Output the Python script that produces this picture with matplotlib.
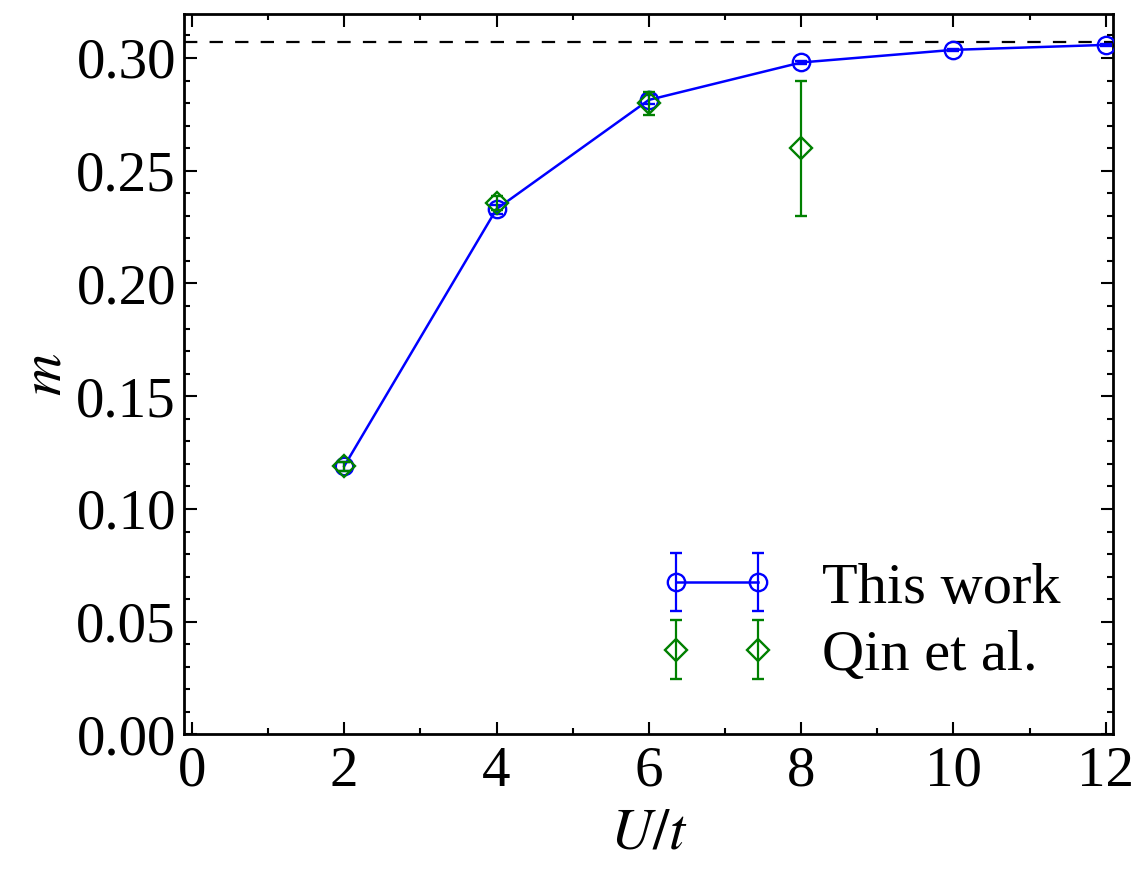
#!/usr/bin/python3

import matplotlib
matplotlib.use('Agg')
import matplotlib.pyplot as plt
from matplotlib.ticker import MultipleLocator, FormatStrFormatter


# This work
U_this = [2, 4, 6, 8, 10, 12]
m_this = [0.119, 0.233, 0.2814, 0.298, 0.3036, 0.3058]
err_this = [0.002, 0.002, 0.002, 0.0005, 0.0005, 0.0005]

# Qin et al.
U_qin = [2, 4, 6, 8]
m_qin = [0.119, 0.2356, 0.2799, 0.26]
err_qin = [0.002, 0.003, 0.005, 0.03]

# Heisenberg limit (dashed line)
m_limit = 0.307


def main():
	''' Staggered magnetization vs U/t'''

	plt.rcParams['font.family'] = ['Liberation Serif', 'DejaVu Serif']
	plt.rcParams['mathtext.fontset'] = 'stix'

	fs = 41

	fig = plt.figure(figsize=(11.47, 8.75), dpi=100)
	ax = fig.add_axes([0.1607, 0.1606, 0.8099, 0.8234])

	ax.axhline(m_limit, color='black', linestyle=(0, (6, 5.5)), linewidth=1.6, zorder=1)

	ax.errorbar(U_this, m_this, yerr=err_this, color='blue', marker='o',
		markersize=12.5, markerfacecolor='none', markeredgewidth=1.7,
		linewidth=1.8, capsize=4.5, elinewidth=1.6, capthick=1.6,
		label='This work', zorder=3)
	ax.errorbar(U_qin, m_qin, yerr=err_qin, color='green', marker='D',
		markersize=11.5, markerfacecolor='none', markeredgewidth=1.7,
		linestyle='none', capsize=4.5, elinewidth=1.6, capthick=1.6,
		label='Qin et al.', zorder=4)

	ax.set_xlim(-0.1, 12.1)
	ax.set_ylim(0, 0.3195)

	ax.xaxis.set_major_locator(MultipleLocator(2))
	ax.xaxis.set_minor_locator(MultipleLocator(1))
	ax.yaxis.set_major_locator(MultipleLocator(0.05))
	ax.yaxis.set_minor_locator(MultipleLocator(0.01))
	ax.yaxis.set_major_formatter(FormatStrFormatter('%.2f'))

	ax.tick_params(which='both', direction='in', top=True, right=True,
		width=1.5, labelsize=fs)
	ax.tick_params(which='major', length=9)
	ax.tick_params(which='minor', length=4.5)
	ax.tick_params(axis='x', pad=8)
	ax.tick_params(axis='y', pad=6)

	for sp in ax.spines.values():
		sp.set_linewidth(2.0)

	ax.set_xlabel('$U/t$', fontsize=fs + 1, labelpad=8)
	ax.set_ylabel('$m$', fontsize=fs + 1, labelpad=3)

	ax.legend(loc='lower right', numpoints=2, frameon=False, fontsize=fs + 1,
		labelspacing=0.25, handlelength=2.0, handletextpad=0.8,
		borderaxespad=0.5)

	plt.savefig('out.png', dpi=100)
	plt.close()

	return


if __name__ == '__main__':
	main()
